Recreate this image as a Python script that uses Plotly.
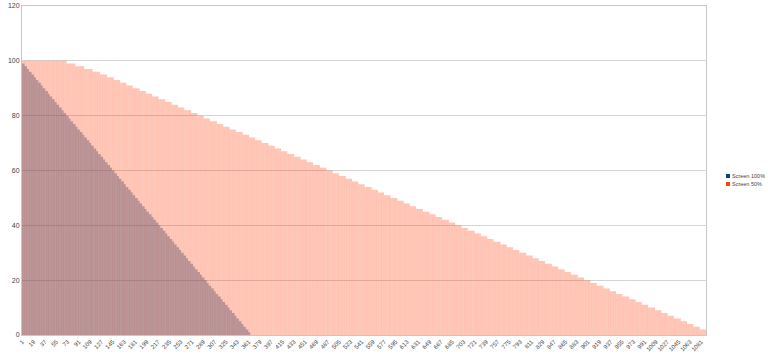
import plotly.graph_objects as go

# ---- data (step levels, with number of categories per level) ----
n_points = 1088
categories = [str(i) for i in range(1, n_points + 1)]

screen100_levels = [99, 98, 97, 96, 95, 94, 93, 92, 91, 90, 89, 88, 87, 86, 85, 84, 83, 82, 81, 80,
                    79, 78, 77, 76, 75, 74, 73, 72, 71, 70, 69, 68, 67, 66, 65, 64, 63, 62, 61, 60,
                    59, 58, 57, 56, 55, 54, 53, 52, 51, 50, 49, 48, 47, 46, 45, 44, 43, 42, 41, 40,
                    39, 38, 37, 36, 35, 34, 33, 32, 31, 30, 29, 28, 27, 26, 25, 24, 23, 22, 21, 20,
                    19, 18, 17, 16, 15, 14, 13, 12, 11, 10, 9, 8, 7, 6, 5, 4, 3, 2, 1]
screen100_counts = [4, 4, 3, 4, 4, 3, 4, 4, 3, 4, 4, 3, 4, 4, 3, 4, 4, 3, 4, 4,
                    3, 4, 4, 3, 4, 4, 3, 4, 4, 3, 4, 4, 3, 4, 4, 3, 4, 4, 3, 4,
                    4, 3, 4, 4, 3, 4, 4, 3, 4, 4, 3, 4, 4, 3, 4, 4, 3, 4, 4, 3,
                    4, 4, 3, 4, 4, 3, 4, 4, 3, 4, 4, 3, 4, 4, 3, 4, 4, 3, 4, 4,
                    3, 4, 4, 3, 4, 4, 3, 4, 4, 3, 4, 4, 3, 4, 4, 3, 4, 4, 3]

screen50_levels = [100, 99, 98, 97, 96, 95, 94, 93, 92, 91, 90, 89, 88, 87, 86, 85, 84, 83, 82, 81,
                   80, 79, 78, 77, 76, 75, 74, 73, 72, 71, 70, 69, 68, 67, 66, 65, 64, 63, 62, 61,
                   60, 59, 58, 57, 56, 55, 54, 53, 52, 51, 50, 49, 48, 47, 46, 45, 44, 43, 42, 41,
                   40, 39, 38, 37, 36, 35, 34, 33, 32, 31, 30, 29, 28, 27, 26, 25, 24, 23, 22, 21,
                   20, 19, 18, 17, 16, 15, 14, 13, 12, 11, 10, 9, 8, 7, 6, 5, 4, 3, 2]
screen50_counts = [71, 14, 14, 13, 12, 11, 11,
                   10, 10, 10, 11, 10, 10, 10, 11, 10, 10, 10, 11, 10, 10, 10, 11, 10, 10, 10, 11,
                   10, 10, 10, 11, 10, 10, 10, 11, 10, 10, 10, 11, 10, 10, 10, 11, 10, 10, 10, 11,
                   10, 10, 10, 11, 10, 10, 10, 11, 10, 10, 10, 11, 10, 10, 10, 11, 10, 10, 10, 11,
                   10, 10, 10, 11, 10, 10, 10, 11, 10, 10, 10, 11, 10, 10, 10, 11, 10, 10, 10, 11,
                   10, 10, 10, 11, 10, 10, 10, 11, 10, 10, 10, 10]

tick_step = 18
series_names = ["Screen 100%", "Screen 50%"]
series_colors = ["#004586", "#ff420e"]
series_fills = ["rgba(0,69,134,0.47)", "rgba(255,66,14,0.37)"]


def expand(levels, counts):
    out = []
    for v, c in zip(levels, counts):
        out.extend([v] * c)
    return out


screen100 = expand(screen100_levels, screen100_counts)
screen50 = expand(screen50_levels, screen50_counts)[:n_points]
series = [screen100, screen50]

tick_vals = categories[::tick_step]

fig = go.Figure()
for name, fill, vals in zip(series_names, series_fills, series):
    fig.add_trace(go.Bar(x=categories[:len(vals)], y=vals, name=name,
                         marker=dict(color=fill, line=dict(width=0)),
                         showlegend=False))

# legend drawn in the right margin (small squares + labels)
L, R, T, B = 22, 62, 6, 24
W, H = 768, 359
pw, ph = W - L - R, H - T - B
legend_y_px = [176, 184]
for name, col, ypx in zip(series_names, series_colors, legend_y_px):
    x0 = (726 - L) / pw
    x1 = (730 - L) / pw
    yc = (H - B - ypx) / ph
    hh = 2 / ph
    fig.add_shape(type="rect", xref="paper", yref="paper", x0=x0, x1=x1,
                  y0=yc - hh, y1=yc + hh, fillcolor=col, line=dict(width=0))
    fig.add_annotation(xref="paper", yref="paper", x=(731 - L) / pw, y=yc,
                       text=name, showarrow=False, xanchor="left", yanchor="middle",
                       borderpad=0,
                       font=dict(family="Liberation Sans, Arial, sans-serif", size=5.5,
                                 color="#444444"))

yfont = dict(family="Liberation Sans, Arial, sans-serif", size=7, color="#444444")
xfont = dict(family="Liberation Sans, Arial, sans-serif", size=6, color="#444444")

fig.update_layout(
    width=W, height=H,
    margin=dict(l=L, r=R, t=T, b=B),
    paper_bgcolor="white", plot_bgcolor="white",
    barmode="overlay", bargap=0.12,
    showlegend=False,
    xaxis=dict(type="category", categoryorder="array", categoryarray=categories,
               tickmode="array", tickvals=tick_vals, ticktext=tick_vals,
               tickangle=-45, tickfont=xfont, ticks="", showgrid=False,
               showline=True, linecolor="#c8c8c8", linewidth=1, mirror=True,
               automargin=False, range=[-0.5, n_points - 0.5]),
    yaxis=dict(range=[0, 120], dtick=20, tickfont=yfont, showgrid=True,
               gridcolor="#d4d4d4", gridwidth=1, zeroline=False,
               showline=True, linecolor="#c8c8c8", linewidth=1, mirror=True,
               ticks="", automargin=False),
)

fig.write_html("out.html")
